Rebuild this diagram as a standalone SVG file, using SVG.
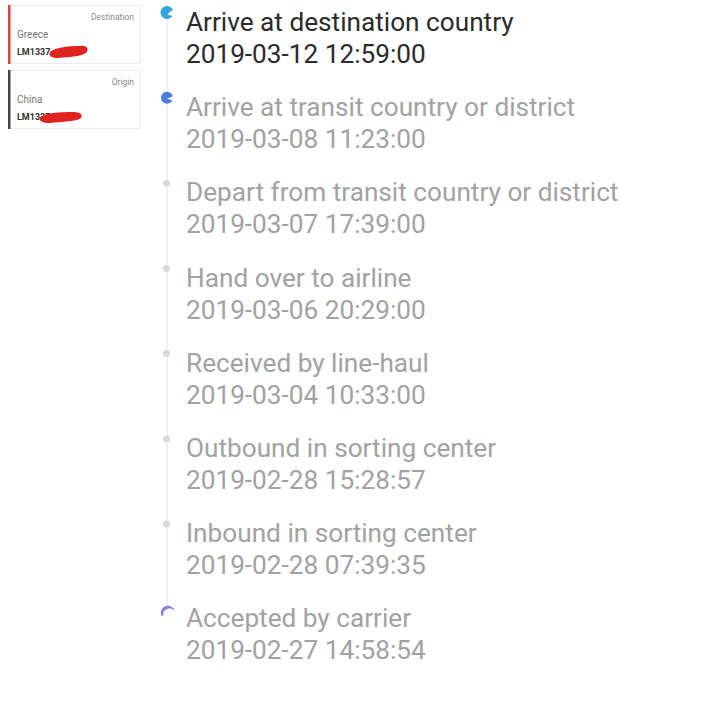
<svg xmlns="http://www.w3.org/2000/svg" width="712" height="720" viewBox="0 0 712 720">
<style>
.t{font-family:Roboto,"Liberation Sans",sans-serif;font-size:26.2px;fill:#a2a2a2}
.t.a{fill:#2b2b2b}
.card{fill:#fff;stroke:#ececec;stroke-width:1}
.lab{font-family:Roboto,"Liberation Sans",sans-serif;font-size:8.5px;fill:#8a8a8a}
.cty{font-family:Roboto,"Liberation Sans",sans-serif;font-size:10px;fill:#777}
.num{font-family:Roboto,"Liberation Sans",sans-serif;font-size:9px;font-weight:bold;fill:#333}
.dot{fill:#dadada}
.red{fill:#e0231f}
</style>
<rect width="712" height="720" fill="#fff"/>
<g id="card-destination">
<rect class="card" x="8.5" y="5.5" width="132" height="58"/>
<rect x="8" y="5" width="2.5" height="59" fill="#e04040"/>
<text class="lab" x="134" y="20" text-anchor="end">Destination</text>
<text class="cty" x="17" y="38">Greece</text>
<text class="num" x="17" y="55">LM1337</text>
<path class="red" d="M50 52 C55 47 70 46 80 46 C86 45 89 48 87 52 C84 56 70 57 58 58 C52 58 48 56 50 52 Z"/>
</g>
<g id="card-origin">
<rect class="card" x="8.5" y="70.5" width="132" height="58"/>
<rect x="8" y="70" width="2.5" height="59" fill="#444"/>
<text class="lab" x="134" y="85" text-anchor="end">Origin</text>
<text class="cty" x="17" y="103">China</text>
<text class="num" x="17" y="120">LM13371</text>
<path class="red" d="M40 117 C45 113 60 112 72 112 C80 112 83 114 81 118 C78 121 62 122 50 123 C43 123 38 121 40 117 Z"/>
</g>
<g id="connectors">
<line x1="167" y1="18" x2="167" y2="610" stroke="#ececec" stroke-width="1.5"/>
</g>
<g id="ev1">
<circle cx="167" cy="12.5" r="6.5" fill="#34a4e0"/>
<path d="M167.5 15 Q170 10 174 10.5 L174 17 Q171 14.5 167.5 15 Z" fill="#fff"/>
<text class="t a" x="186" y="31">Arrive at destination country</text>
<text class="t a" x="186" y="63">2019-03-12 12:59:00</text>
</g>
<g id="ev2">
<circle cx="167" cy="97.7" r="6" fill="#4a7ce0"/>
<path d="M167 98.7 L174 95.7 L174 100.7 Z" fill="#fff"/>
<text class="t" x="186" y="116.2">Arrive at transit country or district</text>
<text class="t" x="186" y="148.2">2019-03-08 11:23:00</text>
</g>
<g id="ev3">
<circle class="dot" cx="166.5" cy="183.2" r="3.5"/>
<text class="t" x="186" y="201.4">Depart from transit country or district</text>
<text class="t" x="186" y="233.4">2019-03-07 17:39:00</text>
</g>
<g id="ev4">
<circle class="dot" cx="166.5" cy="268.4" r="3.5"/>
<text class="t" x="186" y="286.6">Hand over to airline</text>
<text class="t" x="186" y="318.6">2019-03-06 20:29:00</text>
</g>
<g id="ev5">
<circle class="dot" cx="166.5" cy="353.6" r="3.5"/>
<text class="t" x="186" y="371.8">Received by line-haul</text>
<text class="t" x="186" y="403.8">2019-03-04 10:33:00</text>
</g>
<g id="ev6">
<circle class="dot" cx="166.5" cy="438.8" r="3.5"/>
<text class="t" x="186" y="457">Outbound in sorting center</text>
<text class="t" x="186" y="489">2019-02-28 15:28:57</text>
</g>
<g id="ev7">
<circle class="dot" cx="166.5" cy="524" r="3.5"/>
<text class="t" x="186" y="542.2">Inbound in sorting center</text>
<text class="t" x="186" y="574.2">2019-02-28 07:39:35</text>
</g>
<g id="ev8">
<path d="M161 615 A7 7 0 0 1 175 611 A6 5 0 0 0 164 616.5 Z" fill="#8a7be8"/>
<text class="t" x="186" y="627.4">Accepted by carrier</text>
<text class="t" x="186" y="659.4">2019-02-27 14:58:54</text>
</g>
</svg>
